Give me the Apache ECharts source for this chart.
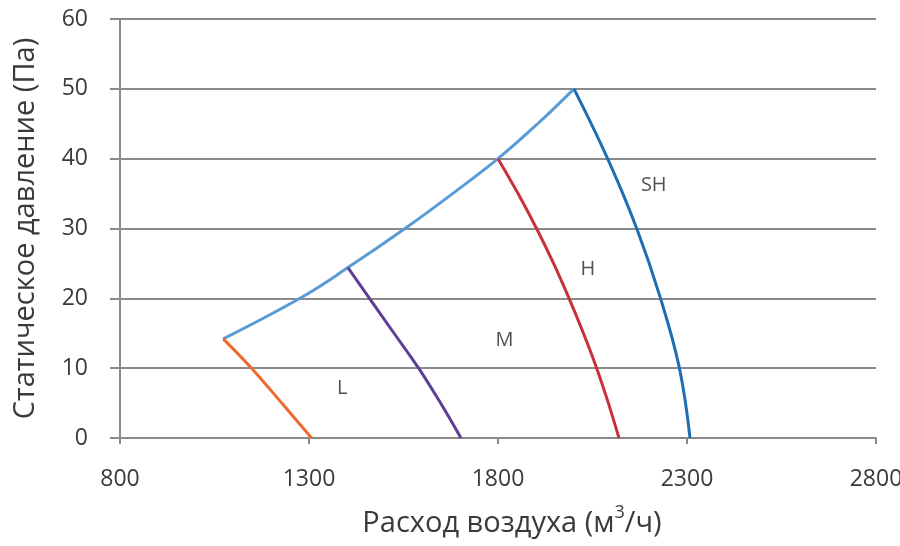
<!DOCTYPE html>
<html>
<head>
<meta charset="utf-8">
<script src="https://cdn.jsdelivr.net/npm/echarts@6/dist/echarts.min.js"></script>
<style>
html,body{margin:0;padding:0;background:#fff;}
#c{width:900px;height:546px;}
</style>
</head>
<body>
<div id="c"></div>
<script>
// Tick values
var xTicks = [800, 1300, 1800, 2300, 2800];
var yTicks = [0, 10, 20, 30, 40, 50, 60];

// Series data: [flow m3/h, static pressure Pa]
var envelope = [[1073, 14.2], [1282, 20.2], [1403, 24.4], [1554, 30.0], [1680, 35.0], [1800, 40.0], [1905, 45.0], [2001, 50.0]];
var curveL  = [[1073, 14.2], [1148, 10.0], [1228, 5.0], [1307, 0]];
var curveM  = [[1403, 24.4], [1460, 20.0], [1525, 15.0], [1590, 10.0], [1648, 5.0], [1702, 0]];
var curveH  = [[1800, 40.0], [1853, 35.0], [1902, 30.0], [1947, 25.0], [1988, 20.0], [2026, 15.0], [2061, 10.0], [2092, 5.0], [2120, 0]];
var curveSH = [[2001, 50.0], [2090, 40.0], [2167, 30.0], [2230, 20.0], [2280, 10.0], [2308, 0]];

// Speed labels
var labelNames = ['SH', 'H', 'M', 'L'];
var labelPos = [[2212, 36.2], [2038, 24.2], [1817, 14.0], [1388, 7.1]];

var FONT = 'Open Sans';
var chart = echarts.init(document.getElementById('c'), null, {renderer: 'canvas'});

function lineSeries(name, data, color) {
  return {
    name: name, type: 'line', data: data, showSymbol: false, symbol: 'none',
    smooth: 0.4, lineStyle: {color: color, width: 3}, z: 3
  };
}

var option = {
  animation: false,
  backgroundColor: '#ffffff',
  grid: {left: 120, right: 24, top: 19, bottom: 108, containLabel: false, outerBoundsMode: 'none'},
  xAxis: {
    type: 'value', min: 800, max: 2800,
    name: '{t|Расход воздуха (м}{s|3}{t|/ч)}',
    nameLocation: 'middle', nameGap: 66,
    nameTextStyle: {
      padding: [0, 0, 0, 28],
      rich: {
        t: {fontFamily: FONT, fontSize: 29, color: '#3a3a3a', verticalAlign: 'bottom', lineHeight: 34},
        s: {fontFamily: FONT, fontSize: 18, color: '#3a3a3a', verticalAlign: 'top', padding: [0, 0, 14, 0], lineHeight: 34}
      }
    },
    axisLine: {show: true, lineStyle: {color: '#8a8a8a', width: 2}},
    axisTick: {show: true, length: 6, lineStyle: {color: '#8a8a8a', width: 2}, customValues: xTicks},
    axisLabel: {fontFamily: FONT, fontSize: 23, color: '#3a3a3a', margin: 30, customValues: xTicks,
      formatter: function (v) { return String(v); }},
    splitLine: {show: false}
  },
  yAxis: {
    type: 'value', min: 0, max: 60, interval: 10,
    name: 'Статическое давление (Па)',
    nameLocation: 'middle', nameGap: 80,
    nameTextStyle: {fontFamily: FONT, fontSize: 29, color: '#3a3a3a'},
    axisLine: {show: true, lineStyle: {color: '#8a8a8a', width: 2}},
    axisTick: {show: true, length: 10, lineStyle: {color: '#8a8a8a', width: 2}},
    axisLabel: {fontFamily: FONT, fontSize: 23, color: '#3a3a3a', margin: 32,
      formatter: function (v) { return String(v); }},
    splitLine: {show: true, lineStyle: {color: '#8a8a8a', width: 2}}
  },
  series: [
    lineSeries('envelope', envelope, '#5b9bd5'),
    lineSeries('L', curveL, '#ef6a2e'),
    lineSeries('M', curveM, '#5d3f97'),
    lineSeries('H', curveH, '#c8313b'),
    lineSeries('SH', curveSH, '#1f6db3'),
    {
      type: 'scatter', symbolSize: 0, silent: true, z: 4,
      data: labelPos.map(function (p, i) { return {value: p, name: labelNames[i]}; }),
      label: {show: true, position: 'inside', formatter: '{b}', fontFamily: FONT, fontSize: 20, color: '#262626'}
    }
  ]
};
chart.setOption(option);
</script>
</body>
</html>
